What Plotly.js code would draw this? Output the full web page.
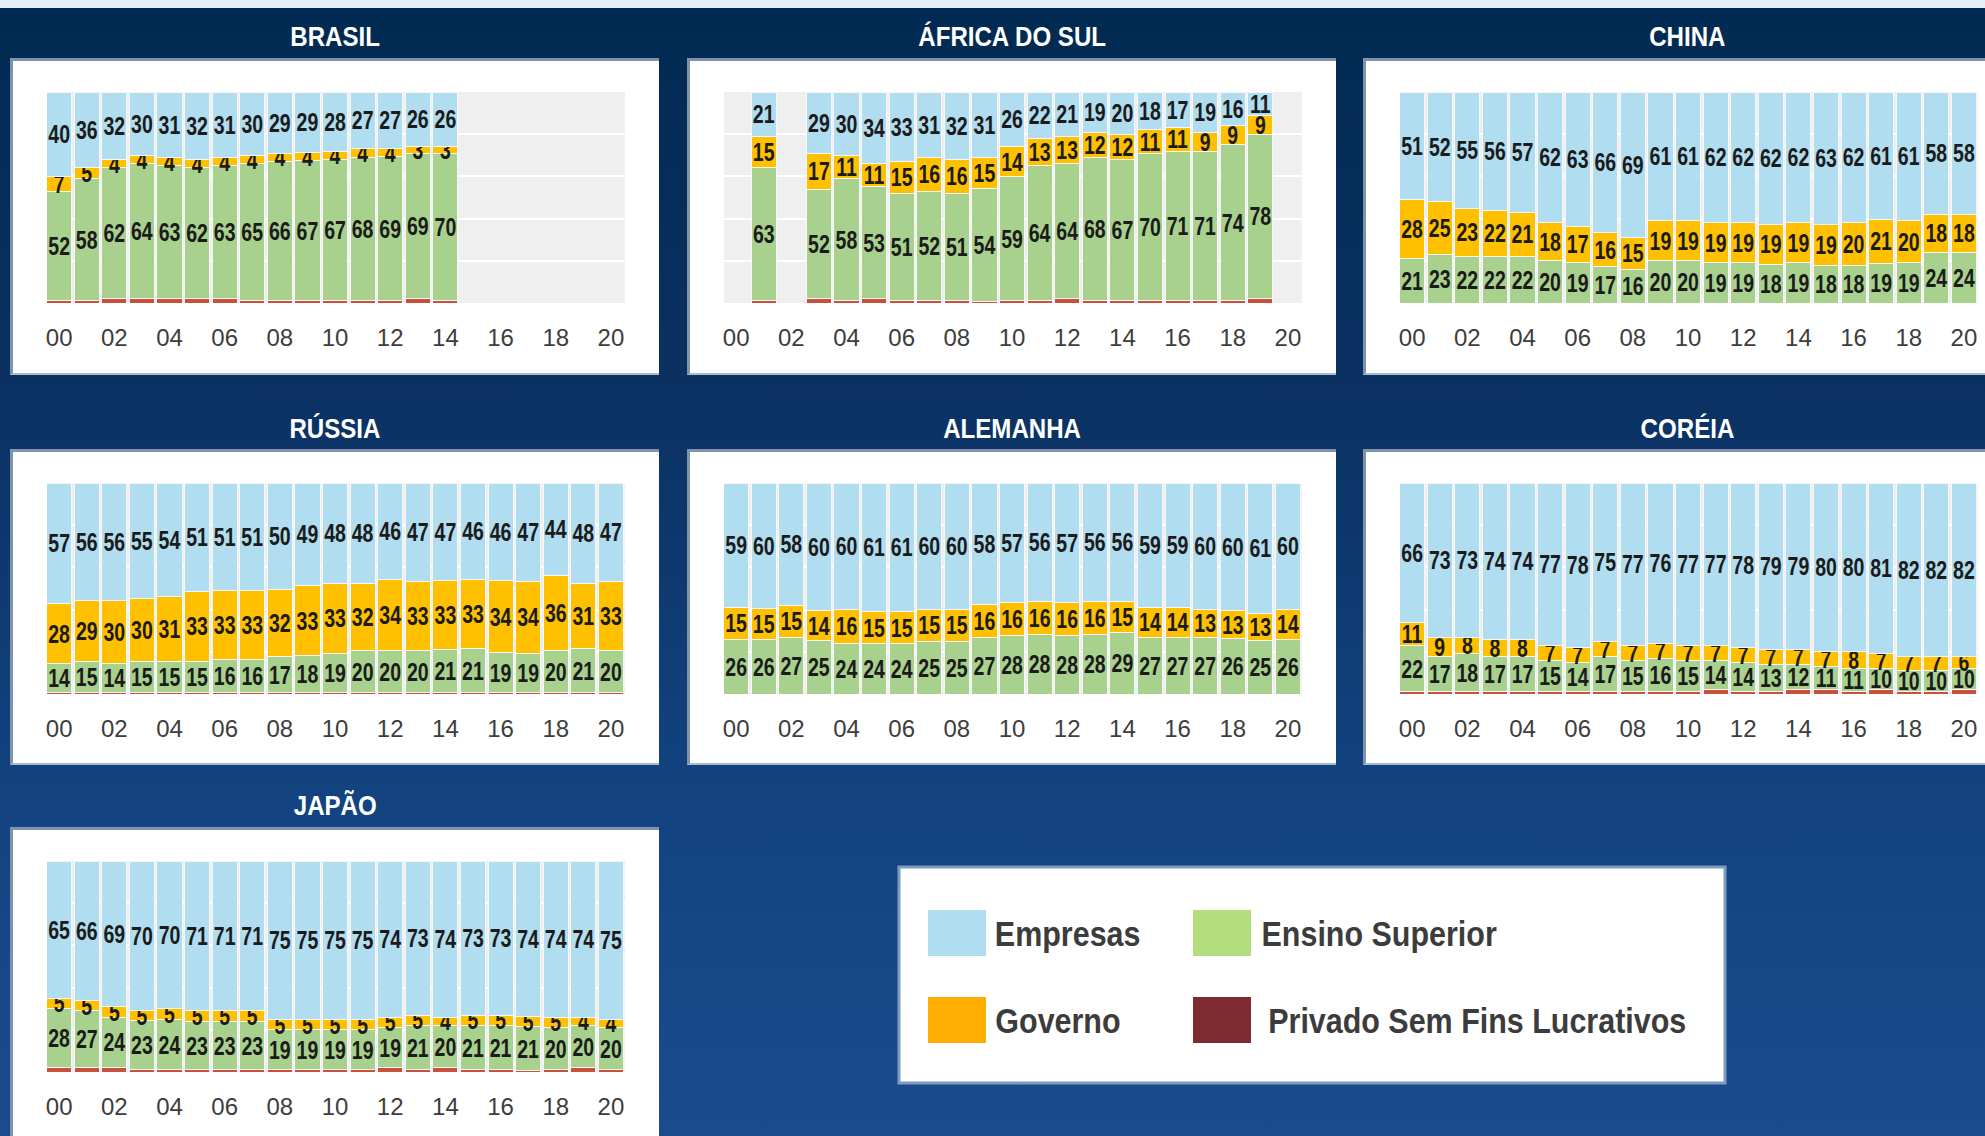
<!DOCTYPE html>
<html><head><meta charset="utf-8">
<script src="https://cdn.plot.ly/plotly-3.0.1.min.js"></script>
<style>
html,body{margin:0;padding:0;width:1985px;height:1136px;overflow:hidden;}
body{position:relative;background:linear-gradient(to bottom,#e6eef8 0px,#e6eef8 8px,#012a52 8px,#0b3264 420px,#12437f 780px,#1a4b8e 1136px);}
.panel{position:absolute;background:#ffffff;box-sizing:border-box;border-top:3px solid #7f93aa;border-left:3px solid #7f93aa;border-bottom:2px solid #a9bccf;}
#chart{position:absolute;left:0;top:0;width:1985px;height:1136px;}
</style></head><body>
<div id="chart"></div>
<script>
// ---------- data ----------
const tickYears = [2000,2002,2004,2006,2008,2010,2012,2014,2016,2018,2020];
const tickLabels = ['00','02','04','06','08','10','12','14','16','18','20'];
const allYears = [2000,2001,2002,2003,2004,2005,2006,2007,2008,2009,2010,2011,2012,2013,2014,2015,2016,2017,2018,2019,2020];
const seriesNames = ['Empresas','Ensino Superior','Governo','Privado Sem Fins Lucrativos'];
const countryTitles = ['BRASIL','ÁFRICA DO SUL','CHINA','RÚSSIA','ALEMANHA','CORÉIA','JAPÃO'];

const brasilYears = [2000,2001,2002,2003,2004,2005,2006,2007,2008,2009,2010,2011,2012,2013,2014];
const brasilEmpresas = [40,36,32,30,31,32,31,30,29,29,28,27,27,26,26];
const brasilGoverno  = [7,5,4,4,4,4,4,4,4,4,4,4,4,3,3];
const brasilEnsino   = [52,58,62,64,63,62,63,65,66,67,67,68,69,69,70];
const brasilPrivado  = [1,1,2,2,2,2,2,1,1,1,1,1,1,2,1];

const africaYears = [2001,2003,2004,2005,2006,2007,2008,2009,2010,2011,2012,2013,2014,2015,2016,2017,2018,2019];
const africaEmpresas = [21,29,30,34,33,31,32,31,26,22,21,19,20,18,17,19,16,11];
const africaGoverno  = [15,17,11,11,15,16,16,15,14,13,13,12,12,11,11,9,9,9];
const africaEnsino   = [63,52,58,53,51,52,51,54,59,64,64,68,67,70,71,71,74,78];
const africaPrivado  = [1,2,1,2,1,1,1,0.5,1,1,2,1,1,1,1,1,1,2];

const chinaEmpresas = [51,52,55,56,57,62,63,66,69,61,61,62,62,62,62,63,62,61,61,58,58];
const chinaGoverno  = [28,25,23,22,21,18,17,16,15,19,19,19,19,19,19,19,20,21,20,18,18];
const chinaEnsino   = [21,23,22,22,22,20,19,17,16,20,20,19,19,18,19,18,18,19,19,24,24];

const russiaEmpresas = [57,56,56,55,54,51,51,51,50,49,48,48,46,47,47,46,46,47,44,48,47];
const russiaGoverno  = [28,29,30,30,31,33,33,33,32,33,33,32,34,33,33,33,34,34,36,31,33];
const russiaEnsino   = [14,15,14,15,15,15,16,16,17,18,19,20,20,20,21,21,19,19,20,21,20];
const russiaPrivado  = [0.5,0.5,0.5,0.5,0.5,0.5,0.5,0.5,0.5,0.5,0.5,0.5,0.5,0.5,0.5,0.5,0.5,0.5,0.5,0.5,0.5];

const alemanhaEmpresas = [59,60,58,60,60,61,61,60,60,58,57,56,57,56,56,59,59,60,60,61,60];
const alemanhaGoverno  = [15,15,15,14,16,15,15,15,15,16,16,16,16,16,15,14,14,13,13,13,14];
const alemanhaEnsino   = [26,26,27,25,24,24,24,25,25,27,28,28,28,28,29,27,27,27,26,25,26];

const coreiaEmpresas = [66,73,73,74,74,77,78,75,77,76,77,77,78,79,79,80,80,81,82,82,82];
const coreiaGoverno  = [11,9,8,8,8,7,7,7,7,7,7,7,7,7,7,7,8,7,7,7,6];
const coreiaEnsino   = [22,17,18,17,17,15,14,17,15,16,15,14,14,13,12,11,11,10,10,10,10];
const coreiaPrivado  = [1,1,1,1,1,1,1,1,1,1,1,2,1,1,2,2,1,2,1,1,2];

const japaoEmpresas = [65,66,69,70,70,71,71,71,75,75,75,75,74,73,74,73,73,74,74,74,75];
const japaoGoverno  = [5,5,5,5,5,5,5,5,5,5,5,5,5,5,4,5,5,5,5,4,4];
const japaoEnsino   = [28,27,24,23,24,23,23,23,19,19,19,19,19,21,20,21,21,21,20,20,20];
const japaoPrivado  = [2,2,2,1,1,1,1,1,1,1,1,1,2,1,2,1,1,0.5,1,2,1];

// ---------- style ----------
const FONT = "'Liberation Sans',Arial,sans-serif";
const barColors = {emp:'#b0ddef', ens:'#a9d18e', gov:'#ffc000', priv:'#c9503c'};
const legendColors = ['#b0def0','#b2de7e','#ffad00','#7f2a2f'];
const W = 1985, H = 1136;
const colLeft = [10, 687, 1363];
const rowTop = [58, 449, 827];
const rowTitleY = [37, 428, 805];
const panelW = 649;
const panelH = [317, 316, 340];

const panels = [
  {t:0, r:0, c:0, x:brasilYears, emp:brasilEmpresas, gov:brasilGoverno, ens:brasilEnsino, priv:brasilPrivado},
  {t:1, r:0, c:1, x:africaYears, emp:africaEmpresas, gov:africaGoverno, ens:africaEnsino, priv:africaPrivado},
  {t:2, r:0, c:2, x:allYears, emp:chinaEmpresas, gov:chinaGoverno, ens:chinaEnsino, priv:null},
  {t:3, r:1, c:0, x:allYears, emp:russiaEmpresas, gov:russiaGoverno, ens:russiaEnsino, priv:russiaPrivado},
  {t:4, r:1, c:1, x:allYears, emp:alemanhaEmpresas, gov:alemanhaGoverno, ens:alemanhaEnsino, priv:null},
  {t:5, r:1, c:2, x:allYears, emp:coreiaEmpresas, gov:coreiaGoverno, ens:coreiaEnsino, priv:coreiaPrivado},
  {t:6, r:2, c:0, x:allYears, emp:japaoEmpresas, gov:japaoGoverno, ens:japaoEnsino, priv:japaoPrivado}
];

// white panels (HTML, behind the transparent plot)
panels.forEach(p => {
  const d = document.createElement('div');
  d.className = 'panel';
  d.style.left = colLeft[p.c] + 'px';
  d.style.top = rowTop[p.r] + 'px';
  d.style.width = panelW + 'px';
  d.style.height = panelH[p.r] + 'px';
  document.body.insertBefore(d, document.getElementById('chart'));
});

const traces = [];
const layout = {
  width: W, height: H,
  margin: {l:0, r:0, t:0, b:0},
  paper_bgcolor: 'rgba(0,0,0,0)',
  plot_bgcolor: '#efefef',
  barmode: 'stack',
  barnorm: 'percent',
  bargap: 0.09,
  showlegend: false,
  uniformtext: {mode: 'show', minsize: 25},
  annotations: [],
  shapes: []
};

panels.forEach((p, i) => {
  const n = i + 1;
  const xa = 'x' + (n === 1 ? '' : n), ya = 'y' + (n === 1 ? '' : n);
  const left = colLeft[p.c], top = rowTop[p.r];
  const segs = [];
  if (p.priv) segs.push({v:p.priv, col:barColors.priv, name:seriesNames[3], txt:false});
  segs.push({v:p.ens, col:barColors.ens, name:seriesNames[1], txt:true});
  segs.push({v:p.gov, col:barColors.gov, name:seriesNames[2], txt:true});
  segs.push({v:p.emp, col:barColors.emp, name:seriesNames[0], txt:true});
  segs.forEach(s => {
    traces.push({
      type: 'bar', x: p.x, y: s.v, name: s.name, xaxis: xa, yaxis: ya,
      marker: {color: s.col, line: {color: '#f7f7f7', width: 1}},
      text: s.txt ? s.v.map(String) : undefined,
      textposition: s.txt ? 'inside' : 'none',
      insidetextanchor: 'middle',
      textangle: 0,
      textfont: {family: FONT, size: 25, color: '#1b1b1b', weight: 'bold'},
      hoverinfo: 'skip'
    });
  });
  layout['xaxis' + (n === 1 ? '' : n)] = {
    domain: [(left + 37) / W, (left + 615) / W],
    anchor: ya,
    range: [1999.56, 2020.51],
    tickvals: tickYears, ticktext: tickLabels,
    tickfont: {family: FONT, size: 24, color: '#3d3d3d'},
    ticks: 'outside', ticklen: 13, tickcolor: 'rgba(0,0,0,0)',
    showgrid: false, zeroline: false, showline: false, fixedrange: true
  };
  layout['yaxis' + (n === 1 ? '' : n)] = {
    domain: [1 - (top + 245) / H, 1 - (top + 34) / H],
    anchor: xa,
    range: [0, 100],
    showticklabels: false, ticks: '',
    showgrid: true, gridcolor: '#ffffff', gridwidth: 2, dtick: 20,
    zeroline: false, showline: false, fixedrange: true
  };
  layout.annotations.push({
    xref: 'paper', yref: 'paper',
    x: (left + panelW / 2) / W, y: 1 - rowTitleY[p.r] / H,
    xanchor: 'center', yanchor: 'middle',
    text: countryTitles[p.t], showarrow: false,
    font: {family: FONT, size: 28, color: '#ffffff', weight: 'bold'}
  });
});

// legend box
layout.shapes.push({type:'rect', xref:'paper', yref:'paper', x0:899/W, x1:1725/W, y0:1-1083/H, y1:1-867/H,
  fillcolor:'#ffffff', line:{color:'#7d9cc0', width:3}, layer:'above'});
const legPos = [
  {sx:928, sy:910, tc:1067, ty:933},
  {sx:1193, sy:910, tc:1379, ty:933},
  {sx:928, sy:997, tc:1058, ty:1020},
  {sx:1193, sy:997, tc:1477, ty:1020}
];
legPos.forEach((lp, k) => {
  layout.shapes.push({type:'rect', xref:'paper', yref:'paper',
    x0:lp.sx/W, x1:(lp.sx+58)/W, y0:1-(lp.sy+46)/H, y1:1-lp.sy/H,
    fillcolor:legendColors[k], line:{width:0}, layer:'above'});
  layout.annotations.push({xref:'paper', yref:'paper', x:lp.tc/W, y:1-lp.ty/H,
    xanchor:'center', yanchor:'middle', showarrow:false, text:seriesNames[k],
    font:{family:FONT, size:35, color:'#3c3c3c', weight:'bold'}});
});

function condense(el, factor) {
  const len = el.getComputedTextLength();
  if (len > 0) {
    el.setAttribute('textLength', (len * factor).toFixed(1));
    el.setAttribute('lengthAdjust', 'spacingAndGlyphs');
  }
}

Plotly.newPlot('chart', traces, layout, {staticPlot: true, displayModeBar: false}).then(gd => {
  gd.querySelectorAll('text.bartext').forEach(el => condense(el, 0.78));
  gd.querySelectorAll('text.annotation-text').forEach(el => {
    const big = parseFloat(el.style.fontSize) > 30;
    condense(el, big ? 0.87 : 0.86);
  });
});
</script></body></html>
